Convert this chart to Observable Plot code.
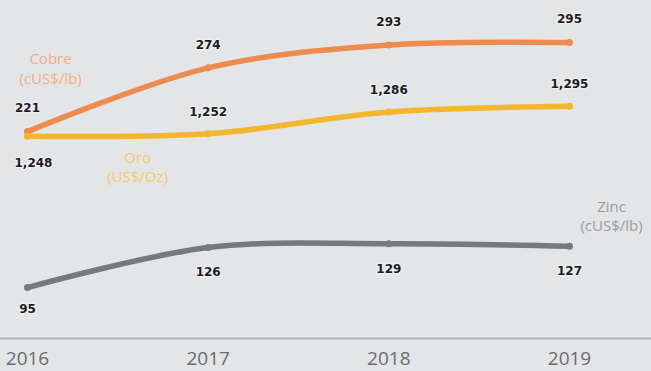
<!DOCTYPE html>
<html>
<head>
<meta charset="utf-8">
<script src="https://cdn.jsdelivr.net/npm/d3@7"></script>
<script src="https://cdn.jsdelivr.net/npm/@observablehq/plot@0.6"></script>
<style>
  html, body { margin: 0; padding: 0; background: #e3e5e7; }
  #chart svg { display: block; }
</style>
</head>
<body>
<div id="chart"></div>
<script>
// ---- data ----
const years = [2016, 2017, 2018, 2019];
const cobre = [221, 274, 293, 295];
const oro = [1248, 1252, 1286, 1295];
const zinc = [95, 126, 129, 127];
const seriesNames = ["Cobre", "Oro", "Zinc"];
const seriesUnits = ["(cUS$/lb)", "(US$/Oz)", "(cUS$/lb)"];
// each series is drawn on its own value window (as in the original index chart)
const cobreWindow = [49, 330];
const oroWindow = [931, 1461];
const zincWindow = [55.5, 317.5];

const colors = { Cobre: "#ee8b50", Oro: "#f3b62c", Zinc: "#77797b" };
const nameColors = { Cobre: "#f2ae86", Oro: "#f5cc6c", Zinc: "#9b9d9f" };

const series = [
  { name: "Cobre", values: cobre, window: cobreWindow, unit: seriesUnits[0] },
  { name: "Oro", values: oro, window: oroWindow, unit: seriesUnits[1] },
  { name: "Zinc", values: zinc, window: zincWindow, unit: seriesUnits[2] }
];

const rows = [];
series.forEach(s => s.values.forEach((v, i) => rows.push({
  series: s.name, year: years[i], value: v,
  t: (v - s.window[0]) / (s.window[1] - s.window[0])
})));
const of = name => rows.filter(d => d.series === name);
const fmt = d3.format(",");

const valueText = {
  text: d => fmt(d.value), fontFamily: "DejaVu Sans", fontWeight: "bold",
  fontSize: 12, fill: "#1e1e1e", stroke: "#eceef0", strokeWidth: 3
};
const nameText = {
  fontFamily: "Open Sans", fontSize: 15, lineHeight: 1.3, lineAnchor: "middle"
};

const marks = [
  Plot.ruleY([0], { stroke: "#b2b5b8", strokeWidth: 2 }),
  Plot.axisX(years, {
    tickSize: 0, tickPadding: 13, fontSize: 19, fill: "#6a6c6e", label: null,
    fontFamily: "Open Sans", tickFormat: d => String(d)
  })
];

["Zinc", "Cobre", "Oro"].forEach(name => {
  marks.push(Plot.line(of(name), {
    x: "year", y: "t", stroke: colors[name], strokeWidth: 5.5,
    curve: "catmull-rom", strokeLinecap: "round"
  }));
  marks.push(Plot.dot(of(name), { x: "year", y: "t", r: 3.5, fill: colors[name] }));
});

// value labels
marks.push(Plot.text(of("Cobre"), { x: "year", y: "t", dy: -23, ...valueText }));
marks.push(Plot.text(of("Oro").filter(d => d.year !== years[0]), { x: "year", y: "t", dy: -22, ...valueText }));
marks.push(Plot.text(of("Oro").filter(d => d.year === years[0]), { x: "year", y: "t", dy: 27, dx: 6, ...valueText }));
marks.push(Plot.text(of("Zinc").filter(d => d.year === years[0]), { x: "year", y: "t", dy: 22, ...valueText }));
marks.push(Plot.text(of("Zinc").filter(d => d.year !== years[0]), { x: "year", y: "t", dy: 25, ...valueText }));

// series name labels, anchored to line points
const first = name => of(name).slice(0, 1);
const last = name => of(name).slice(-1);
marks.push(Plot.text(first("Cobre"), { x: "year", y: "t", text: d => "Cobre\n" + seriesUnits[0], dx: 23, dy: -64, fill: nameColors.Cobre, ...nameText }));
marks.push(Plot.text(first("Oro"), { x: "year", y: "t", text: d => "Oro\n" + seriesUnits[1], dx: 110, dy: 30, fill: nameColors.Oro, ...nameText }));
marks.push(Plot.text(last("Zinc"), { x: "year", y: "t", text: d => "Zinc\n" + seriesUnits[2], dx: 42, dy: -31, fill: nameColors.Zinc, ...nameText }));

const chart = Plot.plot({
  width: 651, height: 371,
  marginTop: 0, marginBottom: 33, marginLeft: 0, marginRight: 0,
  style: { background: "#e3e5e7", fontFamily: "Open Sans", overflow: "visible" },
  x: { type: "linear", domain: [2016, 2019], range: [27, 569], axis: null },
  y: { domain: [0, 1], axis: null },
  marks
});
document.getElementById("chart").appendChild(chart);
</script>
</body>
</html>
